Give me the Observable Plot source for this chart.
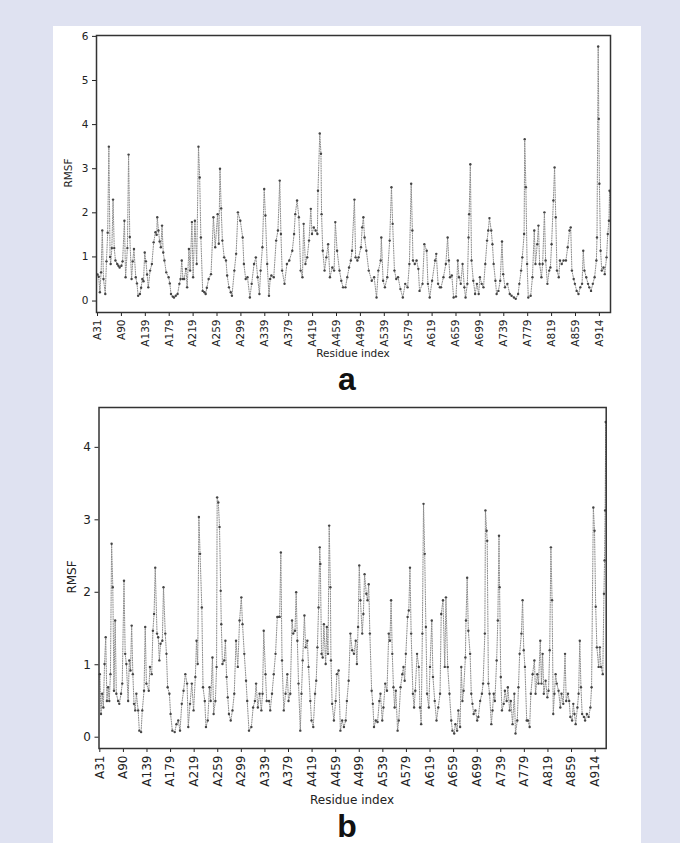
<!DOCTYPE html>
<html><head><meta charset="utf-8">
<script src="https://cdn.jsdelivr.net/npm/d3@7"></script>
<script src="https://cdn.jsdelivr.net/npm/@observablehq/plot@0.6"></script>
<style>
html,body{margin:0;padding:0;}
body{width:680px;height:843px;background:#dfe2f1;position:relative;overflow:hidden;}
#panel{position:absolute;left:53px;top:26px;width:588px;height:830px;background:#fff;}
.abs{position:absolute;left:0;}
.lab{position:absolute;font-family:"DejaVu Sans",sans-serif;color:#222;white-space:nowrap;line-height:1;}
.letter{position:absolute;font-family:"Liberation Sans",Arial,sans-serif;font-weight:bold;color:#111;font-size:32px;line-height:32px;transform:translateX(-50%);}
</style></head><body>
<div id="panel"></div>
<div id="chartA" class="abs" style="top:0"></div>
<div id="chartB" class="abs" style="top:370px"></div>
<div class="lab" style="left:68px;top:173px;font-size:10.5px;transform:translate(-50%,-50%) rotate(-90deg)">RMSF</div>
<div class="lab" style="left:353px;top:353px;font-size:10.5px;transform:translate(-50%,-50%)">Residue index</div>
<div class="letter" style="left:347px;top:363px">a</div>
<div class="lab" style="left:72px;top:577px;font-size:12px;transform:translate(-50%,-50%) rotate(-90deg)">RMSF</div>
<div class="lab" style="left:352px;top:800px;font-size:12px;transform:translate(-50%,-50%)">Residue index</div>
<div class="letter" style="left:347px;top:810px">b</div>
<script>
// Tick labels (residue names) and their positions along the residue sequence
const tickLabels = ["A31","A90","A139","A179","A219","A259","A299","A339","A379","A419","A459","A499","A539","A579","A619","A659","A699","A739","A779","A819","A859","A914"];
const tickPos = [0,40,80,120,160,200,240,280,320,360,400,440,480,520,560,600,640,680,720,760,800,840];

// Panel a: sequence position and RMSF
const idxA = [0,2,4,6,8,10,13,15,17,19,21,22,24,26,28,30,33,35,37,40,42,45,47,50,52,54,57,59,61,64,66,68,71,73,75,77,79,81,83,85,88,91,94,97,99,100,102,104,106,108,110,112,115,119,121,123,126,128,131,134,137,139,141,143,145,148,150,153,155,158,160,163,166,169,171,173,176,179,181,183,186,190,194,197,201,203,205,207,209,212,215,217,220,223,225,229,232,235,239,243,245,248,251,255,258,262,265,268,271,273,276,279,281,284,287,289,291,295,299,302,305,307,309,313,317,321,326,329,331,334,337,340,343,345,348,351,354,357,359,362,365,368,369,372,374,375,377,380,383,386,389,393,396,398,401,405,408,411,415,418,421,424,426,430,432,435,437,441,443,445,447,450,454,459,463,467,470,474,475,478,481,485,489,492,494,497,500,503,507,511,515,519,522,525,527,528,531,534,537,539,544,547,551,553,556,560,565,567,570,573,575,579,583,586,588,590,593,596,600,603,605,608,611,614,616,619,621,622,624,626,629,632,635,638,640,643,646,649,652,654,656,659,661,663,666,668,671,674,677,679,682,686,690,693,697,700,704,706,709,711,714,715,717,719,721,725,728,731,733,736,738,740,743,745,748,750,753,756,758,760,763,765,767,769,772,774,777,780,784,787,790,792,794,797,799,802,805,808,811,813,815,818,821,823,826,829,832,835,836,838,839,840,842,844,847,849,852,854,856,857];
const rmsfA = [0.6,0.55,0.2,0.65,1.6,0.5,0.16,0.9,1.55,3.5,1.0,0.84,1.2,2.3,1.2,0.92,0.84,0.8,0.76,0.8,0.9,1.82,0.54,1.2,3.32,1.45,0.5,0.9,1.18,0.54,0.4,0.12,0.16,0.3,0.5,0.45,1.1,0.9,0.6,0.31,0.69,0.84,1.33,1.56,1.5,1.9,1.6,1.35,1.22,1.71,1.1,0.92,0.65,0.54,0.4,0.16,0.1,0.08,0.12,0.16,0.39,0.5,0.92,0.5,0.5,0.73,0.31,1.18,0.69,1.79,0.54,1.82,0.84,3.5,2.8,1.44,0.23,0.2,0.16,0.3,0.5,0.61,1.9,1.22,1.97,1.3,3.0,2.1,1.37,0.99,0.92,0.58,0.31,0.2,0.12,0.69,1.07,2.01,1.82,1.44,0.84,0.5,0.54,0.08,0.39,0.84,0.99,0.54,0.16,0.69,1.22,2.54,1.94,0.84,0.12,0.5,0.58,0.54,1.37,1.6,2.73,1.52,0.69,0.39,0.84,0.92,1.14,1.52,1.97,2.28,1.9,0.69,0.54,1.75,0.84,0.99,1.37,2.09,1.52,1.67,1.6,1.52,2.5,3.8,3.34,1.97,1.14,0.69,0.99,1.29,0.54,0.76,0.69,1.79,1.14,0.69,0.46,0.31,0.31,0.54,0.76,0.92,1.14,2.3,0.99,0.92,0.99,1.22,1.67,1.9,1.44,1.14,0.69,0.46,0.54,0.08,0.69,0.92,1.44,0.46,0.31,0.54,1.37,2.58,1.75,0.69,0.5,0.54,0.27,0.08,0.39,0.31,0.84,2.66,1.6,0.92,0.84,0.92,0.73,0.23,0.39,1.29,1.14,0.39,0.08,0.46,0.92,1.07,0.39,0.31,0.31,0.54,0.84,1.44,0.92,0.54,0.58,0.08,0.1,0.92,0.54,0.39,0.84,0.31,0.08,0.39,1.44,1.97,3.1,0.92,0.46,0.16,0.39,0.16,0.54,0.39,0.31,0.84,1.37,1.6,1.88,1.6,1.29,0.84,0.46,0.16,0.23,0.46,1.35,0.61,0.31,0.39,0.16,0.12,0.08,0.05,0.16,0.39,0.69,0.99,1.52,3.67,2.58,0.84,0.08,0.12,0.54,1.6,0.84,1.29,1.71,0.84,0.54,0.84,2.01,0.92,0.39,0.69,0.76,1.29,2.28,3.03,1.9,0.69,0.54,0.92,0.84,0.92,0.92,1.22,1.6,1.67,0.69,0.5,0.39,0.23,0.16,0.31,0.39,1.14,0.69,0.54,0.39,0.31,0.23,0.39,0.54,0.92,1.44,5.77,4.13,2.66,1.14,0.69,0.76,0.61,0.99,1.52,1.82,2.5];

// Panel b: sequence position and RMSF
const idxB = [0,2,4,6,8,10,12,14,16,18,20,22,24,26,28,31,33,36,38,41,43,45,48,50,52,54,56,58,60,62,65,67,70,72,75,77,79,83,85,88,90,92,94,97,99,101,103,106,108,111,113,115,118,120,123,127,130,133,136,139,142,145,148,150,153,156,159,162,164,166,168,170,173,175,178,180,183,186,188,191,193,196,198,199,201,203,205,206,208,211,213,215,217,219,222,225,228,231,234,237,240,242,245,248,250,253,257,260,263,265,268,271,274,276,278,281,283,287,289,292,295,298,301,303,305,307,309,312,315,318,320,323,326,328,331,333,335,337,340,342,344,347,349,352,354,357,359,362,365,367,369,371,373,374,376,378,380,383,385,387,389,391,392,394,397,400,402,405,408,411,414,417,419,422,425,428,431,434,436,438,440,442,445,447,449,452,454,456,458,461,463,465,468,471,474,476,479,481,484,487,490,492,494,496,498,500,502,505,507,510,513,515,517,519,522,524,526,528,531,533,535,538,541,543,545,547,549,551,553,555,558,560,563,565,568,571,574,577,579,582,585,587,590,593,596,598,601,603,606,608,611,613,615,617,620,621,623,625,628,630,632,634,637,640,642,645,648,650,653,654,656,657,659,661,664,666,668,670,673,675,677,678,680,682,685,687,690,692,695,697,700,703,705,708,710,712,715,717,719,721,724,726,729,731,734,737,739,742,744,747,749,751,753,756,759,761,763,765,767,769,771,773,775,778,781,783,786,789,791,794,796,798,801,803,805,807,810,812,814,816,818,821,823,826,829,832,834,837,839,841,843,846,848,850,853,855,856,857,858];
const rmsfB = [0.87,0.32,0.6,0.41,1.01,1.38,0.5,0.69,0.5,0.87,2.67,2.07,0.64,1.61,0.6,0.5,0.46,0.6,0.74,2.16,1.15,1.01,0.5,1.06,0.92,1.54,0.87,0.46,0.37,0.6,0.37,0.09,0.07,0.37,0.64,1.52,0.74,0.64,0.97,0.87,1.47,1.7,2.34,1.43,1.38,1.06,1.29,1.33,2.07,1.43,1.15,0.69,0.6,0.32,0.09,0.07,0.18,0.23,0.09,0.46,0.64,0.87,0.74,0.14,0.46,0.74,0.37,0.83,1.33,1.01,3.04,2.53,1.79,0.69,0.5,0.14,0.23,0.69,0.5,1.1,0.32,0.5,0.97,3.31,3.24,2.9,2.02,1.56,1.01,1.06,1.33,0.83,0.55,0.32,0.23,0.37,0.6,1.33,0.97,1.61,1.93,1.56,1.15,0.78,0.5,0.09,0.14,0.41,0.5,0.74,0.41,0.6,0.37,0.6,1.47,0.87,0.5,0.5,0.37,0.6,0.87,1.15,1.66,1.66,1.66,2.55,1.06,0.37,0.6,0.87,0.5,0.6,1.61,1.43,1.47,2.0,1.33,0.74,0.09,0.6,1.06,1.68,1.24,1.33,0.97,0.5,0.23,0.14,0.6,0.78,1.24,1.79,2.62,2.39,1.15,1.1,1.56,1.01,1.52,1.15,2.92,2.07,1.06,0.46,0.23,0.5,0.87,0.92,0.09,0.23,0.14,0.23,0.5,0.78,1.43,1.2,1.15,1.33,1.01,1.52,2.37,1.89,1.43,1.7,2.25,1.98,1.89,2.11,1.43,0.64,0.46,0.14,0.23,0.21,0.5,0.6,0.23,0.41,0.74,0.64,1.43,1.33,1.89,1.15,0.69,0.41,0.64,0.09,0.23,0.69,0.87,0.97,0.78,1.15,1.66,1.75,2.34,1.43,0.6,0.41,0.64,1.15,0.97,0.41,0.18,1.43,3.22,2.53,1.52,0.6,0.41,0.97,1.61,0.83,0.5,0.23,0.41,0.6,1.7,1.89,0.97,1.93,0.97,0.6,0.23,0.09,0.05,0.18,0.09,0.37,0.14,0.97,0.5,0.64,1.1,1.61,2.2,1.47,1.15,0.6,0.46,0.32,0.37,0.23,0.28,0.5,0.6,0.74,1.43,3.13,2.85,2.71,0.74,0.6,0.18,0.37,0.6,0.5,1.06,1.61,2.78,2.07,0.83,0.37,0.46,0.64,0.5,0.69,0.37,0.5,0.18,0.6,0.05,0.23,0.69,1.15,1.43,1.89,1.2,0.97,0.23,0.23,0.14,0.6,0.87,1.06,0.6,0.87,0.74,1.33,0.74,1.15,0.6,0.78,0.55,0.64,1.2,2.62,1.89,0.32,0.6,0.87,0.74,0.64,0.41,0.6,0.46,1.15,0.5,0.6,0.5,0.28,0.23,0.46,0.32,0.18,0.41,0.6,1.33,0.69,0.32,0.28,0.23,0.32,0.28,0.41,0.69,3.17,2.85,1.8,1.24,0.97,1.24,0.97,0.87,1.98,2.44,3.13,4.35];

const labelOf = new Map(tickPos.map((p, k) => [p, tickLabels[k]]));
const rowsA = idxA.map((i, k) => ({i, v: rmsfA[k]}));
const rowsB = idxB.map((i, k) => ({i, v: rmsfB[k]}));

function panel(rows, o) {
  return Plot.plot({
    width: 680, height: o.height,
    marginTop: o.mt, marginBottom: o.mb, marginLeft: o.ml, marginRight: o.mr,
    style: {background: "transparent", fontFamily: "DejaVu Sans, sans-serif", fontSize: o.fs + "px", color: "#222"},
    x: {domain: o.xd, axis: null},
    y: {domain: o.yd, axis: null},
    marks: [
      Plot.line(rows, {x: "i", y: "v", stroke: "#8c8c8c", strokeWidth: 1, strokeDasharray: "1,1.4"}),
      Plot.dot(rows, {x: "i", y: "v", r: 1.2, fill: "#444", stroke: null}),
      Plot.axisX({ticks: tickPos, tickFormat: d => labelOf.get(d), tickRotate: -90, tickSize: 4, tickPadding: 3, label: null, fontSize: o.fxs}),
      Plot.axisY({ticks: o.yt, tickFormat: d => String(d), tickSize: 4, tickPadding: 4, label: null, fontSize: o.fs}),
      Plot.frame({stroke: "#333", strokeWidth: 1.5})
    ]
  });
}

document.getElementById("chartA").append(panel(rowsA, {
  height: 370, mt: 35, mb: 58, ml: 96, mr: 70,
  xd: [-1.7, 858.6], yd: [-0.26, 6.02], yt: [0,1,2,3,4,5,6], fs: 10.5, fxs: 10.5
}));
document.getElementById("chartB").append(panel(rowsB, {
  height: 460, mt: 37, mb: 82, ml: 98.5, mr: 74.3,
  xd: [-1.4, 858.8], yd: [-0.156, 4.55], yt: [0,1,2,3,4], fs: 12, fxs: 12
}));
</script>
</body></html>
